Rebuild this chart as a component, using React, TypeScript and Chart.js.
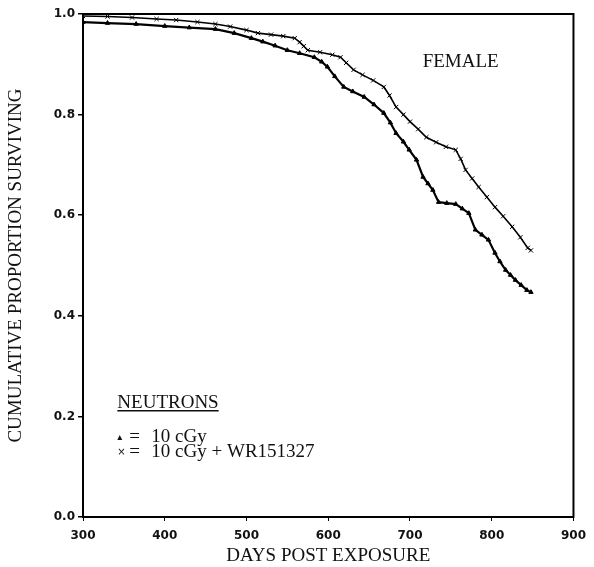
import React, { useEffect, useRef } from 'react';
import { Chart, registerables } from 'chart.js';

Chart.register(...registerables);

// ---- data ----
const X_MIN = 300;
const X_MAX = 900;
const X_STEP = 100;
const Y_MIN = 0;
const Y_MAX = 1;
const Y_STEP = 0.2;

const X_TITLE = 'DAYS POST EXPOSURE';
const Y_TITLE = 'CUMULATIVE PROPORTION SURVIVING';
const PANEL_LABEL = 'FEMALE';
const GROUP_LABEL = 'NEUTRONS';
const LABEL_A = '10 cGy';
const LABEL_B = '10 cGy + WR151327';

// 10 cGy (triangles)
const daysA = [300, 330, 365, 400, 430, 462, 485, 506, 520, 535, 550, 565, 583, 592, 599, 608, 619, 630, 644, 656, 668, 676, 683, 692, 699, 708, 716, 722, 728, 735, 745, 756, 764, 772, 780, 788, 796, 804, 810, 817, 823, 829, 836, 843, 848];
const survA = [0.984, 0.982, 0.980, 0.976, 0.973, 0.970, 0.962, 0.952, 0.945, 0.937, 0.928, 0.922, 0.914, 0.905, 0.895, 0.876, 0.855, 0.846, 0.835, 0.820, 0.803, 0.784, 0.763, 0.746, 0.730, 0.710, 0.676, 0.663, 0.650, 0.626, 0.624, 0.622, 0.613, 0.604, 0.571, 0.561, 0.551, 0.525, 0.508, 0.491, 0.481, 0.471, 0.461, 0.451, 0.447];

// 10 cGy + WR151327 (crosses)
const daysB = [300, 330, 360, 390, 414, 440, 462, 480, 500, 514, 530, 545, 559, 565, 570, 575, 590, 605, 615, 622, 631, 642, 655, 668, 675, 683, 692, 700, 710, 720, 732, 744, 756, 762, 768, 776, 784, 794, 804, 814, 825, 835, 844, 848];
const survB = [0.996, 0.995, 0.993, 0.990, 0.988, 0.984, 0.980, 0.975, 0.968, 0.962, 0.959, 0.956, 0.952, 0.944, 0.936, 0.928, 0.924, 0.919, 0.914, 0.903, 0.889, 0.879, 0.868, 0.855, 0.838, 0.815, 0.800, 0.786, 0.771, 0.755, 0.745, 0.736, 0.730, 0.712, 0.690, 0.673, 0.656, 0.636, 0.616, 0.598, 0.577, 0.556, 0.535, 0.530];

const SERIF = '"Liberation Serif", "Times New Roman", serif';
const SANS = '"DejaVu Sans", sans-serif';
const INK = '#111';

const annotations = {
  id: 'annotations',
  afterDraw(chart: any) {
    const { ctx, chartArea: a, scales } = chart;
    const x = scales.x;
    const y = scales.y;
    ctx.save();
    // frame
    ctx.strokeStyle = '#000';
    ctx.lineWidth = 2;
    ctx.strokeRect(a.left, a.top, a.right - a.left, a.bottom - a.top);

    ctx.fillStyle = INK;
    ctx.strokeStyle = INK;
    ctx.textBaseline = 'middle';
    ctx.font = `19px ${SERIF}`;

    // panel label
    ctx.textAlign = 'center';
    ctx.fillText(PANEL_LABEL, x.getPixelForValue(762), y.getPixelForValue(0.905));

    // group label, underlined
    ctx.textAlign = 'left';
    const nx = x.getPixelForValue(342);
    const ny = y.getPixelForValue(0.227);
    ctx.fillText(GROUP_LABEL, nx, ny);
    const w = ctx.measureText(GROUP_LABEL).width;
    ctx.lineWidth = 1.5;
    ctx.beginPath();
    ctx.moveTo(nx, ny + 8);
    ctx.lineTo(nx + w, ny + 8);
    ctx.stroke();

    // key
    const rows = [
      { sym: '\u25B4', label: LABEL_A, v: 0.159 },
      { sym: '\u00D7', label: LABEL_B, v: 0.129 },
    ];
    rows.forEach((r) => {
      const ry = y.getPixelForValue(r.v);
      ctx.font = `10px ${SANS}`;
      ctx.fillText(r.sym, nx, ry);
      ctx.font = `19px ${SERIF}`;
      ctx.fillText('=', nx + 12, ry);
      ctx.fillText(r.label, nx + 34, ry);
    });
    ctx.restore();
  },
};

export default function App() {
  const ref = useRef<HTMLCanvasElement | null>(null);

  useEffect(() => {
    if (!ref.current) return;
    const chart = new Chart(ref.current, {
      type: 'line',
      data: {
        datasets: [
          {
            label: LABEL_A,
            data: daysA.map((d, i) => ({ x: d, y: survA[i] })),
            tension: 0,
            borderColor: '#000',
            borderWidth: 2.2,
            pointStyle: 'triangle',
            pointRadius: 2.5,
            pointBackgroundColor: '#000',
            pointBorderColor: '#000',
            pointBorderWidth: 1,
            fill: false,
          },
          {
            label: LABEL_B,
            data: daysB.map((d, i) => ({ x: d, y: survB[i] })),
            tension: 0,
            borderColor: '#000',
            borderWidth: 1.6,
            pointStyle: 'crossRot',
            pointRadius: 3,
            pointBorderColor: '#000',
            pointBorderWidth: 1,
            fill: false,
          },
        ],
      },
      options: {
        animation: false,
        responsive: false,
        devicePixelRatio: 1,
        layout: { padding: { left: 0, right: 15, top: 14, bottom: 0 } },
        plugins: {
          legend: { display: false },
          tooltip: { enabled: false },
        },
        scales: {
          x: {
            type: 'linear',
            min: X_MIN,
            max: X_MAX,
            ticks: {
              stepSize: X_STEP,
              autoSkip: false,
              maxRotation: 0,
              padding: 8,
              color: INK,
              font: { family: SANS, size: 12, weight: 'bold' },
            },
            grid: { drawOnChartArea: false, tickLength: 4, color: '#000', lineWidth: 1 },
            border: { color: '#000', width: 2 },
            title: {
              display: true,
              text: X_TITLE,
              color: INK,
              font: { family: SERIF, size: 19 },
              padding: { top: 1, bottom: 0 },
            },
            afterFit: (s: any) => {
              s.height = 50;
            },
          },
          y: {
            type: 'linear',
            min: Y_MIN,
            max: Y_MAX,
            ticks: {
              stepSize: Y_STEP,
              padding: 3,
              color: INK,
              font: { family: SANS, size: 12, weight: 'bold' },
              callback: (v: any) => Number(v).toFixed(1),
            },
            grid: { drawOnChartArea: false, tickLength: 5, color: '#000', lineWidth: 1.5 },
            border: { color: '#000', width: 2 },
            title: {
              display: true,
              text: Y_TITLE,
              color: INK,
              font: { family: SERIF, size: 19 },
              padding: { top: 5, bottom: 0 },
            },
            afterFit: (s: any) => {
              s.width = 83;
            },
          },
        },
      },
      plugins: [annotations],
    });
    return () => chart.destroy();
  }, []);

  return (
    <div style={{ position: 'absolute', left: 0, top: 0, width: 594, height: 567, background: '#fff' }}>
      <canvas ref={ref} width={594} height={567} />
    </div>
  );
}
